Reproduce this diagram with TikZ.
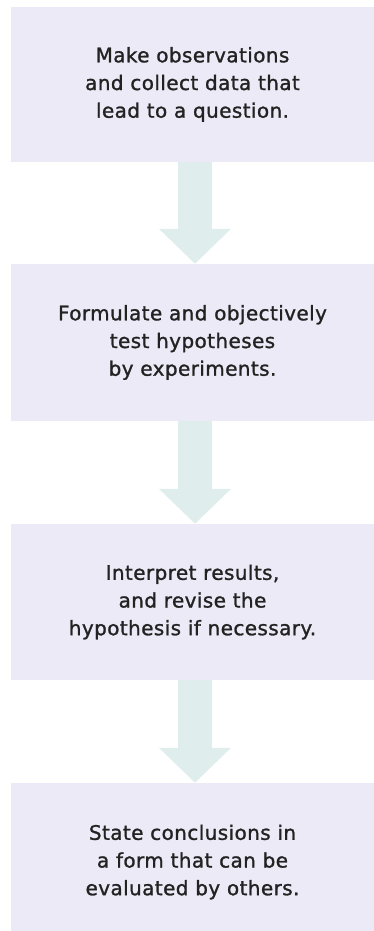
\documentclass[tikz,border=0pt]{standalone}
\usepackage{fontspec}
\setmainfont{DejaVu Sans}[LetterSpace=2,FakeBold=1.2]
\usetikzlibrary{arrows.meta}
\definecolor{boxfill}{RGB}{236,234,246}
\definecolor{arrowfill}{RGB}{223,237,237}
\definecolor{textcol}{RGB}{34,34,34}
\tikzset{
  stepbox/.style={fill=boxfill, draw=none, minimum width=363pt, inner sep=0pt,
    align=center, text=textcol, font=\fontsize{20}{27.7}\selectfont},
  flowarrow/.style={draw=arrowfill, line width=34pt,
    -{Triangle[width=70pt,length=35pt,fill=arrowfill]}}
}
\begin{document}
\begin{tikzpicture}[x=1pt,y=-1pt]
\useasboundingbox (0,0) rectangle (374,931);
\node[stepbox, minimum height=155pt] (b1) at (192.5,84.5)
  {Make observations\\and collect data that\\lead to a question.};
\node[stepbox, minimum height=157pt] (b2) at (192.5,342.5)
  {Formulate and objectively\\test hypotheses\\by experiments.};
\node[stepbox, minimum height=156pt] (b3) at (192.5,602)
  {Interpret results,\\and revise the\\hypothesis if necessary.};
\node[stepbox, minimum height=158pt] (b4) at (192.5,862)
  {State conclusions in\\a form that can be\\evaluated by others.};
\coordinate (ax) at (195,0);
\draw[flowarrow] (b1.south -| ax) -- (b2.north -| ax);
\draw[flowarrow] (b2.south -| ax) -- (b3.north -| ax);
\draw[flowarrow] (b3.south -| ax) -- (b4.north -| ax);
\end{tikzpicture}
\end{document}
